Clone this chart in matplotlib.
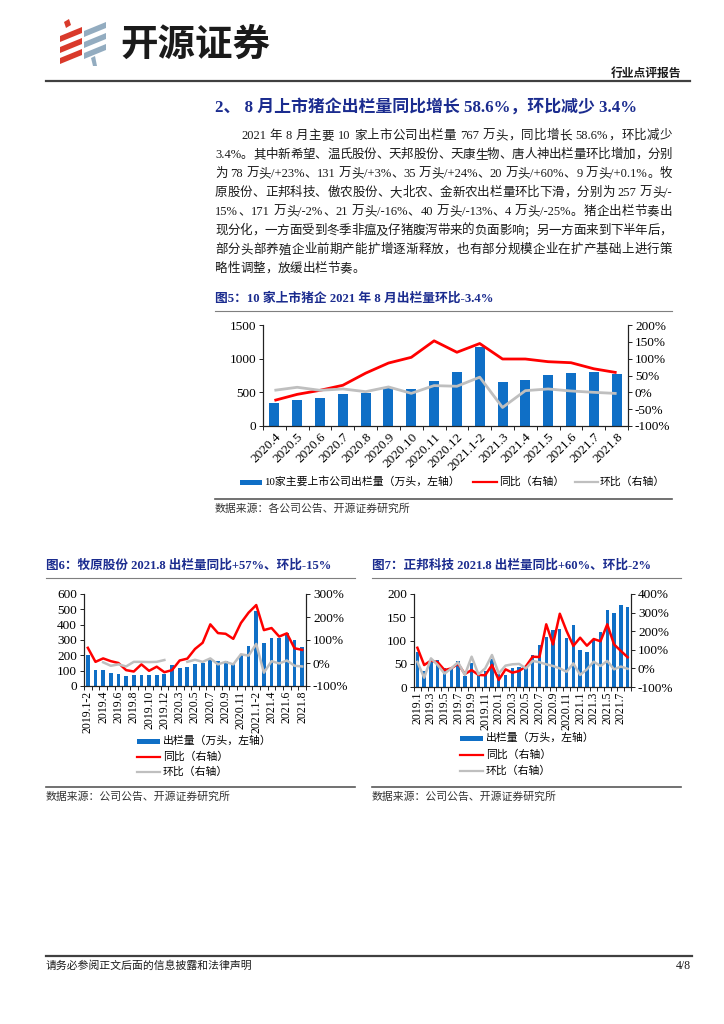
import re
import numpy as np
import matplotlib
matplotlib.use('Agg')
import matplotlib.pyplot as plt
from matplotlib.font_manager import FontProperties
from matplotlib.patches import Polygon, Rectangle
from matplotlib.ticker import FuncFormatter, FixedLocator

# 字体：西文用 Times 风格，中文回落到 Noto Sans CJK
FAM = ['Liberation Serif', 'Noto Sans CJK SC']
plt.rcParams['font.family'] = FAM

W, H = 724, 1024
NAVY = '#1B2C8F'
BLUE = '#0F6FC6'
RED = '#FF0000'
GRAY = '#BFBFBF'

# ---------------- 图5 数据：10家上市猪企 ----------------
cat5 = ['2020.4', '2020.5', '2020.6', '2020.7', '2020.8', '2020.9', '2020.10', '2020.11',
        '2020.12', '2021.1-2', '2021.3', '2021.4', '2021.5', '2021.6', '2021.7', '2021.8']
vol5 = [338, 393, 413, 470, 485, 570, 555, 663, 795, 1166, 648, 686, 755, 790, 795, 767]
yoy5 = [-24, -6, 6, 21, 57, 87, 104, 153, 119, 145, 99, 99, 91, 88, 70, 58.6]
mom5 = [6, 15, 6, 10, 2, 16, -3, 20, 18, 45, -45, 5, 10, 4, 0, -3.4]

# ---------------- 图6 数据：牧原股份 ----------------
cat6 = ['2019.1-2', '2019.3', '2019.4', '2019.5', '2019.6', '2019.7', '2019.8', '2019.9',
        '2019.10', '2019.11', '2019.12', '2020.1-2', '2020.3', '2020.4', '2020.5', '2020.6',
        '2020.7', '2020.8', '2020.9', '2020.10', '2020.11', '2020.12', '2021.1-2', '2021.3',
        '2021.4', '2021.5', '2021.6', '2021.7', '2021.8']
vol6 = [202, 103, 103, 88, 79, 66, 70, 70, 72, 73, 81, 136, 116, 125, 143, 152,
        169, 160, 163, 150, 205, 264, 488, 281, 316, 310, 345, 301, 257]
yoy6 = [66, 5, 20, 8, 0, -31, -37, -6, -34, -16, -40, -31, 11, 19, 61, 88,
        168, 130, 127, 105, 174, 219, 252, 143, 152, 115, 129, 64, 57]
mom6 = [None, None, 3, -12, -6, -15, 5, 5, 4, 5, 13, None, None, 5, 14, 5,
        20, -6, 5, -6, 38, 32, 83, -42, 8, -2, 11, -12, -15]

# ---------------- 图7 数据：正邦科技 ----------------
cat7 = ['2019.%d' % m for m in range(1, 13)] + ['2020.%d' % m for m in range(1, 13)] + \
       ['2021.%d' % m for m in range(1, 9)]
vol7 = [76, 34, 57, 57, 40, 40, 55, 24, 52, 29, 34, 61, 27, 26, 40, 44,
        40, 69, 90, 108, 122, 125, 105, 134, 79, 75, 103, 118, 166, 159, 176, 171]
yoy7 = [111, 18, 42, 33, -9, 0, 25, -30, -9, -35, -37, 18, -62, -5, -23, -14,
        11, 63, 61, 237, 129, 294, 201, 121, 165, 122, 158, 146, 237, 129, 94, 60]
mom7 = [35, -50, 54, 18, -28, 0, 33, -35, 63, -32, 0, 72, -27, 15, 22, 24,
        0, 40, 33, 22, 13, 0, -18, 27, -35, -5, 36, 13, 40, -5, 10, -2]

heading = '2、 8 月上市猪企出栏量同比增长 58.6%，环比减少 3.4%'
para = [
    '2021 年 8 月主要 10 家上市公司出栏量 767 万头，同比增长 58.6%，环比减少',
    '3.4%。其中新希望、温氏股份、天邦股份、天康生物、唐人神出栏量环比增加，分别',
    '为 78 万头/+23%、131 万头/+3%、35 万头/+24%、20 万头/+60%、9 万头/+0.1%。牧',
    '原股份、正邦科技、傲农股份、大北农、金新农出栏量环比下滑，分别为 257 万头/-',
    '15%、171 万头/-2%、21 万头/-16%、40 万头/-13%、4 万头/-25%。猪企出栏节奏出',
    '现分化，一方面受到冬季非瘟及仔猪腹泻带来的负面影响；另一方面来到下半年后，',
    '部分头部养殖企业前期产能扩增逐渐释放，也有部分规模企业在扩产基础上进行策',
    '略性调整，放缓出栏节奏。',
]


def rect(x0, y0, x1, y1):
    return [x0 / W, 1 - y1 / H, (x1 - x0) / W, (y1 - y0) / H]


def pct(v, p):
    return '%d%%' % v


def justify(ax, rnd, s, x0, x1, y, size, last=False, **kw):
    """逐字排布，实现两端对齐"""
    toks = re.findall(r'[\x21-\x7e]+|\s|[^\x21-\x7e\s]', s)
    prop = FontProperties(family=FAM, size=size)
    em = size * 100 / 72
    ws = []
    for t in toks:
        if t.isspace():
            ws.append(em * 0.25)
        else:
            ws.append(rnd.get_text_width_height_descent(t, prop, ismath=False)[0])
    gap = 0 if last else (x1 - x0 - sum(ws)) / (len(toks) - 1)
    x = x0
    for t, w in zip(toks, ws):
        if not t.isspace():
            ax.text(x, y, t, fontsize=size, ha='left', va='center', **kw)
        x += w + gap


def style_axes(ax, ax2, n):
    for a in (ax, ax2):
        a.spines['top'].set_visible(False)
        for s in ('left', 'right', 'bottom'):
            a.spines[s].set_linewidth(0.8)
            a.spines[s].set_color('#222222')
    ax.set_xlim(-0.5, n - 0.5)
    ax.xaxis.set_minor_locator(FixedLocator(np.arange(-0.5, n, 1)))
    ax.tick_params(axis='x', which='major', length=0)
    ax.tick_params(axis='x', which='minor', length=3, width=0.6, direction='out')
    ax.tick_params(axis='y', length=3, width=0.6, direction='out', pad=2)
    ax2.tick_params(axis='y', length=3, width=0.6, direction='out', pad=2)


fig = plt.figure(figsize=(W / 100, H / 100), dpi=100)
bg = fig.add_axes([0, 0, 1, 1])
bg.set_xlim(0, W)
bg.set_ylim(H, 0)
bg.axis('off')
rnd = fig.canvas.get_renderer()

# ---------------- 页眉 ----------------
red_polys = [
    [(64, 22), (69, 19), (71, 25), (66, 28)],
    [(60, 36), (82, 27), (82, 33), (60, 42)],
    [(60, 47), (82, 38), (82, 44), (60, 53)],
    [(60, 58), (82, 49), (82, 55), (60, 64)],
]
blue_polys = [
    [(84, 31), (106, 22), (106, 28), (84, 37)],
    [(84, 42), (106, 33), (106, 39), (84, 48)],
    [(84, 53), (106, 44), (106, 50), (84, 59)],
    [(91, 58), (95, 56), (97, 66), (93, 66)],
]
for p in red_polys:
    bg.add_patch(Polygon(p, closed=True, color='#D93A2B', lw=0))
for p in blue_polys:
    bg.add_patch(Polygon(p, closed=True, color='#93ACC0', lw=0))
bg.text(120, 44, '开源证券', fontsize=27, fontweight='bold', color='#1a1a1a',
        ha='left', va='center', family='Noto Sans CJK SC')
bg.text(681, 73, '行业点评报告', fontsize=8.5, fontweight='bold', color='#1a1a1a',
        ha='right', va='center', family='Noto Sans CJK SC')
bg.plot([46, 690], [80.5, 80.5], color='#404040', lw=1.6)

# ---------------- 标题与正文 ----------------
bg.text(215, 107, heading, fontsize=12.2, fontweight='bold', color=NAVY,
        ha='left', va='center')
for i, line in enumerate(para):
    x0 = 241 if i == 0 else 215
    justify(bg, rnd, line, x0, 672, 136 + 19 * i, 9, last=(i == len(para) - 1),
            color='#1a1a1a')

# ---------------- 图5 ----------------
bg.text(215, 298, '图5：10 家上市猪企 2021 年 8 月出栏量环比-3.4%', fontsize=9.2,
        fontweight='bold', color=NAVY, ha='left', va='center')
bg.plot([215, 672], [310.5, 310.5], color='#7f7f7f', lw=0.8)

ax = fig.add_axes(rect(263, 325, 628, 426))
x5 = np.arange(len(cat5))
ax.bar(x5, vol5, width=0.44, color=BLUE, zorder=2)
ax.set_ylim(0, 1500)
ax.set_yticks([0, 500, 1000, 1500])
ax.set_xticks(x5)
ax.set_xticklabels(cat5, rotation=45, ha='right', rotation_mode='anchor', fontsize=9.5)
ax2 = ax.twinx()
ax2.plot(x5, yoy5, color=RED, lw=2, solid_capstyle='butt')
ax2.plot(x5, mom5, color=GRAY, lw=2, solid_capstyle='butt')
ax2.set_ylim(-100, 200)
ax2.set_yticks(np.arange(-100, 201, 50))
ax2.yaxis.set_major_formatter(FuncFormatter(pct))
style_axes(ax, ax2, len(cat5))
for t in ax.get_yticklabels() + ax2.get_yticklabels():
    t.set_fontsize(9.5)

# 图5 图例
bg.add_patch(Rectangle((240, 479.5), 22, 5, color=BLUE, lw=0))
bg.text(264, 482, '10家主要上市公司出栏量（万头，左轴）', fontsize=7.8, ha='left', va='center')
bg.plot([473, 497], [482, 482], color=RED, lw=1.6)
bg.text(499, 482, '同比（右轴）', fontsize=7.8, ha='left', va='center')
bg.plot([575, 598], [482, 482], color=GRAY, lw=1.6)
bg.text(600, 482, '环比（右轴）', fontsize=7.8, ha='left', va='center')
bg.plot([215, 672], [498.5, 498.5], color='#595959', lw=1.2)
bg.text(215, 509, '数据来源：各公司公告、开源证券研究所', fontsize=7.8, color='#333333',
        ha='left', va='center')

# ---------------- 图6 ----------------
bg.text(46, 566, '图6：牧原股份 2021.8 出栏量同比+57%、环比-15%', fontsize=9.1,
        fontweight='bold', color=NAVY, ha='left', va='center')
bg.plot([46, 355], [577.5, 577.5], color='#7f7f7f', lw=0.8)

ax = fig.add_axes(rect(84, 594, 306, 686))
x6 = np.arange(len(cat6))
ax.bar(x6, vol6, width=0.5, color=BLUE, zorder=2)
ax.set_ylim(0, 600)
ax.set_yticks(np.arange(0, 601, 100))
ax.set_xticks(x6[::2])
ax.set_xticklabels(cat6[::2], rotation=90, ha='center', va='top', fontsize=8.5)
ax2 = ax.twinx()
ax2.plot(x6, yoy6, color=RED, lw=1.8)
ax2.plot(x6, np.array(mom6, dtype=float), color=GRAY, lw=1.8)
ax2.set_ylim(-100, 300)
ax2.set_yticks(np.arange(-100, 301, 100))
ax2.yaxis.set_major_formatter(FuncFormatter(pct))
style_axes(ax, ax2, len(cat6))
for t in ax.get_yticklabels() + ax2.get_yticklabels():
    t.set_fontsize(9.5)

leg_items = [('出栏量（万头，左轴）', BLUE, 'bar'), ('同比（右轴）', RED, 'line'),
             ('环比（右轴）', GRAY, 'line')]
for i, (lab, c, kind) in enumerate(leg_items):
    yy = 741 + 15.5 * i
    if kind == 'bar':
        bg.add_patch(Rectangle((137, yy - 2.5), 23, 5, color=c, lw=0))
    else:
        bg.plot([137, 160], [yy, yy], color=c, lw=1.6)
    bg.text(163, yy, lab, fontsize=7.8, ha='left', va='center')
bg.plot([46, 355], [786.5, 786.5], color='#595959', lw=1.2)
bg.text(46, 797, '数据来源：公司公告、开源证券研究所', fontsize=7.8, color='#333333',
        ha='left', va='center')

# ---------------- 图7 ----------------
bg.text(372, 566, '图7：正邦科技 2021.8 出栏量同比+60%、环比-2%', fontsize=9.1,
        fontweight='bold', color=NAVY, ha='left', va='center')
bg.plot([372, 681], [577.5, 577.5], color='#7f7f7f', lw=0.8)

ax = fig.add_axes(rect(414, 594, 631, 687))
x7 = np.arange(len(cat7))
ax.bar(x7, vol7, width=0.5, color=BLUE, zorder=2)
ax.set_ylim(0, 200)
ax.set_yticks(np.arange(0, 201, 50))
ax.set_xticks(x7[::2])
ax.set_xticklabels(cat7[::2], rotation=90, ha='center', va='top', fontsize=8.5)
ax2 = ax.twinx()
ax2.plot(x7, yoy7, color=RED, lw=1.8)
ax2.plot(x7, mom7, color=GRAY, lw=1.8)
ax2.set_ylim(-100, 400)
ax2.set_yticks(np.arange(-100, 401, 100))
ax2.yaxis.set_major_formatter(FuncFormatter(pct))
style_axes(ax, ax2, len(cat7))
for t in ax.get_yticklabels() + ax2.get_yticklabels():
    t.set_fontsize(9.5)

for i, (lab, c, kind) in enumerate(leg_items):
    yy = 738 + 16.5 * i
    if kind == 'bar':
        bg.add_patch(Rectangle((460, yy - 2.5), 23, 5, color=c, lw=0))
    else:
        bg.plot([460, 483], [yy, yy], color=c, lw=1.6)
    bg.text(486, yy, lab, fontsize=7.8, ha='left', va='center')
bg.plot([372, 681], [786.5, 786.5], color='#595959', lw=1.2)
bg.text(372, 797, '数据来源：公司公告、开源证券研究所', fontsize=7.8, color='#333333',
        ha='left', va='center')

# ---------------- 页脚 ----------------
bg.plot([46, 692], [955.5, 955.5], color='#404040', lw=1.6)
bg.text(46, 966, '请务必参阅正文后面的信息披露和法律声明', fontsize=7.8, color='#1a1a1a',
        ha='left', va='center')
bg.text(691, 966, '4/8', fontsize=8.5, color='#1a1a1a', ha='right', va='center')

fig.savefig('out.png', dpi=100)
